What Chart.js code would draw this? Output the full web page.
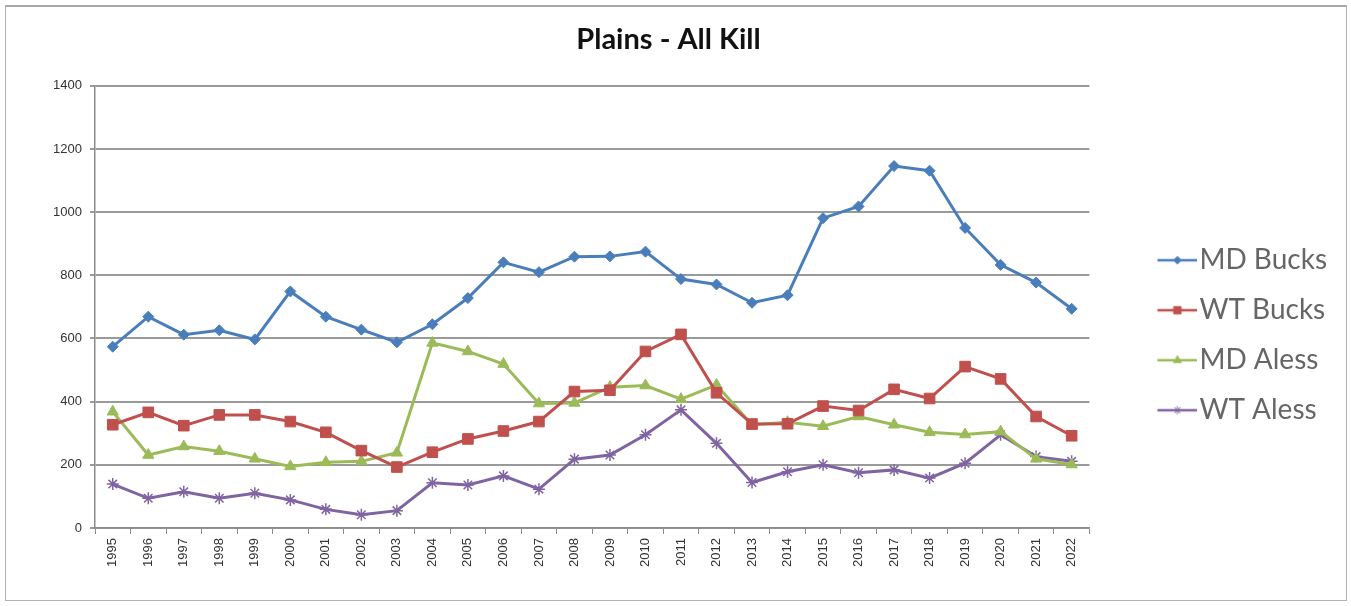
<!DOCTYPE html>
<html>
<head>
<meta charset="utf-8">
<title>Plains - All Kill</title>
<script src="https://cdn.jsdelivr.net/npm/chart.js@4.4.0/dist/chart.umd.min.js"></script>
<style>
    html, body { margin: 0; padding: 0; background: #fff; }
    #frame { position: absolute; left: 5px; top: 5px; width: 1342px; height: 596px; border: 1px solid #b4b4b4; border-top: 2px solid #a8a8a8; box-sizing: border-box; }
    #wrap { position: absolute; left: 0; top: 0; width: 1351px; height: 606px; }
</style>
</head>
<body>
<div id="frame"></div>
<div id="wrap"><canvas id="killChart"></canvas></div>
<script>
// data
var years = ['1995', '1996', '1997', '1998', '1999', '2000', '2001', '2002', '2003', '2004',
    '2005', '2006', '2007', '2008', '2009', '2010', '2011', '2012', '2013', '2014',
    '2015', '2016', '2017', '2018', '2019', '2020', '2021', '2022'];
var mdBucks = [574, 669, 612, 626, 597, 749, 669, 628, 588, 645,
    728, 841, 810, 859, 860, 875, 788, 771, 713, 737,
    981, 1018, 1146, 1131, 950, 833, 777, 694];
var wtBucks = [327, 366, 324, 358, 358, 337, 303, 245, 193, 240,
    282, 307, 337, 432, 436, 559, 613, 428, 329, 330,
    386, 372, 439, 410, 511, 472, 353, 292];
var mdAless = [368, 231, 258, 243, 219, 195, 208, 211, 238, 586,
    559, 519, 394, 396, 446, 451, 408, 453, 327, 335,
    322, 353, 327, 303, 296, 305, 219, 201];
var wtAless = [139, 94, 115, 94, 110, 89, 59, 42, 55, 143,
    136, 165, 123, 218, 231, 295, 374, 268, 144, 178,
    200, 175, 184, 158, 205, 295, 226, 211];
var yTicks = [0, 200, 400, 600, 800, 1000, 1200, 1400];

var series = [
    { label: 'MD Bucks', data: mdBucks, color: '#4a7ebb', style: 'rectRot', radius: 5.5 },
    { label: 'WT Bucks', data: wtBucks, color: '#c0504d', style: 'rect', radius: 7.5 },
    { label: 'MD Aless', data: mdAless, color: '#9bbb59', style: 'triangle', radius: 6.5 },
    { label: 'WT Aless', data: wtAless, color: '#8064a2', style: 'star', radius: 6 }
];

// legend icon: short line with the marker in the middle (left part kept blank)
function legendIcon(s) {
    var c = document.createElement('canvas');
    c.width = 98;
    c.height = 16;
    var ctx = c.getContext('2d');
    ctx.strokeStyle = s.color;
    ctx.lineWidth = 2.5;
    ctx.beginPath();
    ctx.moveTo(58, 8);
    ctx.lineTo(98, 8);
    ctx.stroke();
    ctx.fillStyle = s.color;
    ctx.lineWidth = 1;
    Chart.helpers.drawPoint(ctx, { pointStyle: s.style, radius: s.radius * 0.7, borderWidth: 1, rotation: 0 }, 78, 8);
    return c;
}

var datasets = series.map(function (s) {
    return {
        label: s.label,
        data: s.data,
        borderColor: s.color,
        backgroundColor: s.color,
        borderWidth: 3,
        pointStyle: s.style,
        pointRadius: s.radius,
        pointBorderWidth: s.style === 'star' ? 1.5 : 1,
        pointBorderColor: s.color,
        pointBackgroundColor: s.color,
        tension: 0,
        icon: legendIcon(s)
    };
});

var KillConfig = {
    type: 'line',
    data: {
        labels: years,
        datasets: datasets
    },
    options: {
        responsive: true,
        maintainAspectRatio: false,
        animation: false,
        layout: {
            padding: { left: 0, right: 14, top: 0, bottom: 0 }
        },
        plugins: {
            title: {
                display: true,
                text: 'Plains - All Kill',
                color: '#111',
                font: { family: 'Lato', size: 29, weight: 'bold' },
                padding: { top: 22, bottom: 29 }
            },
            legend: {
                position: 'right',
                title: {
                    display: true,
                    text: '',
                    padding: { top: 50, bottom: 0 }
                },
                labels: {
                    usePointStyle: true,
                    pointStyleWidth: 74,
                    padding: 22,
                    color: '#000',
                    font: { family: 'Lato', size: 28 },
                    generateLabels: function (chart) {
                        return chart.data.datasets.map(function (ds, i) {
                            return {
                                text: ds.label,
                                pointStyle: ds.icon,
                                fillStyle: ds.borderColor,
                                strokeStyle: ds.borderColor,
                                lineWidth: 0,
                                hidden: false,
                                datasetIndex: i
                            };
                        });
                    }
                }
            },
            tooltip: { enabled: false }
        },
        scales: {
            x: {
                offset: true,
                grid: {
                    offset: true,
                    drawOnChartArea: false,
                    drawTicks: true,
                    tickLength: 6,
                    color: '#8c8c8c',
                    lineWidth: 1
                },
                border: { color: '#8c8c8c', width: 1.5 },
                ticks: {
                    autoSkip: false,
                    minRotation: 90,
                    maxRotation: 90,
                    padding: 4,
                    color: '#333',
                    font: { family: 'Liberation Sans', size: 13 }
                },
                afterFit: function (scale) {
                    scale.height = 78;
                }
            },
            y: {
                min: 0,
                max: 1400,
                afterBuildTicks: function (scale) {
                    scale.ticks = yTicks.map(function (v) { return { value: v }; });
                },
                grid: {
                    color: '#9a9a9a',
                    lineWidth: 2,
                    drawTicks: true,
                    tickLength: 5
                },
                border: { color: '#8c8c8c', width: 1.5 },
                ticks: {
                    padding: 8,
                    color: '#333',
                    font: { family: 'Liberation Sans', size: 13 },
                    callback: function (value) {
                        return String(value);
                    }
                },
                afterFit: function (scale) {
                    scale.width = 95;
                }
            }
        }
    }
};

window.onload = function () {
    window.killChart = new Chart(document.getElementById('killChart'), KillConfig);
};
</script>
</body>
</html>
